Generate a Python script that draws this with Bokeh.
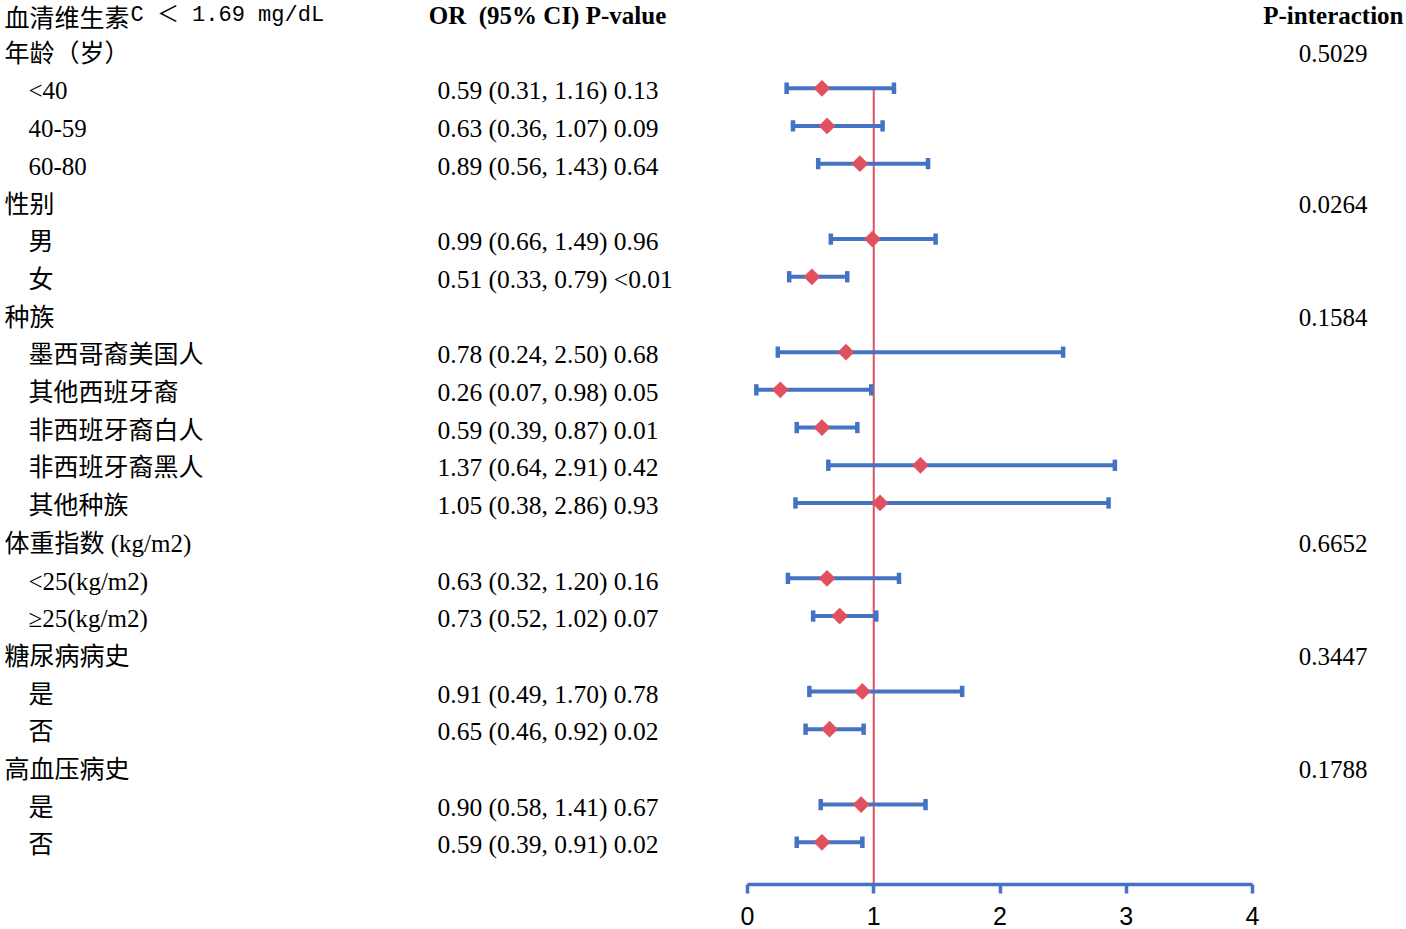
from bokeh.plotting import figure
from bokeh.models import Range1d, LinearAxis, FixedTicker, ColumnDataSource
from bokeh.core.properties import value
from bokeh.embed import file_html
from bokeh.resources import INLINE

# ---------------- data ----------------
labels = ["年龄（岁）", "<40", "40-59", "60-80",
          "性别", "男", "女",
          "种族", "墨西哥裔美国人", "其他西班牙裔", "非西班牙裔白人", "非西班牙裔黑人", "其他种族",
          "体重指数 (kg/m2)", "<25(kg/m2)", "≥25(kg/m2)",
          "糖尿病病史", "是", "否",
          "高血压病史", "是", "否"]
is_group = [True, False, False, False,
            True, False, False,
            True, False, False, False, False, False,
            True, False, False,
            True, False, False,
            True, False, False]
or_val = [None, 0.59, 0.63, 0.89,
          None, 0.99, 0.51,
          None, 0.78, 0.26, 0.59, 1.37, 1.05,
          None, 0.63, 0.73,
          None, 0.91, 0.65,
          None, 0.90, 0.59]
ci_low = [None, 0.31, 0.36, 0.56,
          None, 0.66, 0.33,
          None, 0.24, 0.07, 0.39, 0.64, 0.38,
          None, 0.32, 0.52,
          None, 0.49, 0.46,
          None, 0.58, 0.39]
ci_high = [None, 1.16, 1.07, 1.43,
           None, 1.49, 0.79,
           None, 2.50, 0.98, 0.87, 2.91, 2.86,
           None, 1.20, 1.02,
           None, 1.70, 0.92,
           None, 1.41, 0.91]
p_value = [None, "0.13", "0.09", "0.64",
           None, "0.96", "<0.01",
           None, "0.68", "0.05", "0.01", "0.42", "0.93",
           None, "0.16", "0.07",
           None, "0.78", "0.02",
           None, "0.67", "0.02"]
p_interaction = ["0.5029", None, None, None,
                 "0.0264", None, None,
                 "0.1584", None, None, None, None, None,
                 "0.6652", None, None,
                 "0.3447", None, None,
                 "0.1788", None, None]
title_cn = "血清维生素"
title_rest = "C ＜ 1.69 mg/dL"
col_header = "OR\u00a0 (95% CI) P-value"
pint_header = "P-interaction"
x_ticks = [0, 1, 2, 3, 4]

# ---------------- layout helpers ----------------
PX_PER_UNIT = 126.25
ZERO_SX = 747.0
FRAME_LEFT = 0.0
FRAME_W = 1404
ROW0_SY = 15.0
ROW_PX = 37.7
FRAME_TOP = 0.0
FRAME_BOTTOM = 884.0


def dx(sx):
    return (sx - ZERO_SX) / PX_PER_UNIT


def dy(sy):
    return (sy - ROW0_SY) / ROW_PX


xmin = dx(FRAME_LEFT)
xmax = dx(FRAME_LEFT + FRAME_W)
ytop = dy(FRAME_TOP)
ybot = dy(FRAME_BOTTOM)

BLUE = "#4472C4"
RED = "#E0505E"
SERIF = "Liberation Serif, Noto Sans CJK SC"
FS = "25px"

p = figure(frame_width=FRAME_W, frame_height=int(FRAME_BOTTOM - FRAME_TOP),
           x_range=Range1d(xmin, xmax), y_range=Range1d(ybot, ytop),
           output_backend="svg", toolbar_location=None,
           min_border=0, x_axis_type=None, y_axis_type=None)
p.outline_line_color = None
p.xgrid.visible = False
p.ygrid.visible = False
p.background_fill_color = "white"
p.border_fill_color = "white"

# axis
ax = LinearAxis(ticker=FixedTicker(ticks=x_ticks), bounds=(0, 4))
ax.axis_line_color = BLUE
ax.axis_line_width = 3.5
ax.major_tick_line_color = BLUE
ax.major_tick_line_width = 3.5
ax.major_tick_in = 0
ax.major_tick_out = 9
ax.minor_tick_line_color = None
ax.major_label_text_font = "Liberation Sans"
ax.major_label_text_font_size = "25px"
ax.major_label_text_color = "black"
ax.major_label_standoff = 13
p.add_layout(ax, "below")

# rows
rows = list(range(1, len(labels) + 1))
grp_rows = [r for r, g in zip(rows, is_group) if g]
grp_labels = [l for l, g in zip(labels, is_group) if g]
sub_rows = [r for r, g in zip(rows, is_group) if not g]
sub_labels = [l for l, g in zip(labels, is_group) if not g]

p.text(x=[dx(4)] * len(grp_rows), y=grp_rows, text=grp_labels,
       text_font=value(SERIF), text_font_size=FS, text_baseline="middle",
       text_align="left", text_color="black")
p.text(x=[dx(28)] * len(sub_rows), y=sub_rows, text=sub_labels,
       text_font=value(SERIF), text_font_size=FS, text_baseline="middle",
       text_align="left", text_color="black")

# header
p.text(x=[dx(4)], y=[0], text=[title_cn], text_font=value("Noto Sans CJK SC"),
       text_font_size=FS, text_baseline="middle", text_align="left", text_color="black")
p.text(x=[dx(130)], y=[0], text=[title_rest], text_font=value("Liberation Mono, Noto Sans CJK SC"),
       text_font_size="22px", text_baseline="middle", text_align="left", text_color="black")
p.text(x=[dx(547)], y=[0], text=[col_header], text_font=value("Liberation Serif"),
       text_font_size=FS, text_font_style="bold", text_baseline="middle",
       text_align="center", text_color="black")
p.text(x=[dx(1403)], y=[0], text=[pint_header], text_font=value("Liberation Serif"),
       text_font_size=FS, text_font_style="bold", text_baseline="middle",
       text_align="right", text_color="black")

# OR text
or_rows, or_txt, or_x = [], [], []
for r, o, lo, hi, pv in zip(rows, or_val, ci_low, ci_high, p_value):
    if o is None:
        continue
    or_rows.append(r)
    or_txt.append(f"{o:.2f} ({lo:.2f}, {hi:.2f}) {pv}")
    or_x.append(dx(437))
p.text(x=or_x, y=or_rows, text=or_txt, text_font=value("Liberation Serif"),
       text_font_size="25.5px", text_baseline="middle", text_align="left", text_color="black")

# p-interaction
pi_rows = [r for r, v in zip(rows, p_interaction) if v is not None]
pi_txt = [v for v in p_interaction if v is not None]
p.text(x=[dx(1367)] * len(pi_rows), y=pi_rows, text=pi_txt, text_font=value("Liberation Serif"),
       text_font_size=FS, text_baseline="middle", text_align="right", text_color="black")

# reference line
p.segment(x0=[1], y0=[2 - 0.1], x1=[1], y1=[ybot], line_color=RED, line_width=2)

# CI bars
off = -0.07
bar_y = [r + off for r in or_rows]
lo_v = [v for v in ci_low if v is not None]
hi_v = [v for v in ci_high if v is not None]
om_v = [v for v in or_val if v is not None]
src = ColumnDataSource(dict(y=bar_y, lo=lo_v, hi=hi_v, o=om_v,
                            ya=[y - 0.15 for y in bar_y], yb=[y + 0.15 for y in bar_y]))
p.segment(x0="lo", y0="y", x1="hi", y1="y", source=src, line_color=BLUE, line_width=4)
p.segment(x0="lo", y0="ya", x1="lo", y1="yb", source=src, line_color=BLUE, line_width=4.5)
p.segment(x0="hi", y0="ya", x1="hi", y1="yb", source=src, line_color=BLUE, line_width=4.5)
p.scatter(x="o", y="y", source=src, marker="square", angle=0.785398, size=11.5,
          fill_color=RED, line_color=RED, line_width=0.5)

open("out.html", "w").write(file_html(p, INLINE))
